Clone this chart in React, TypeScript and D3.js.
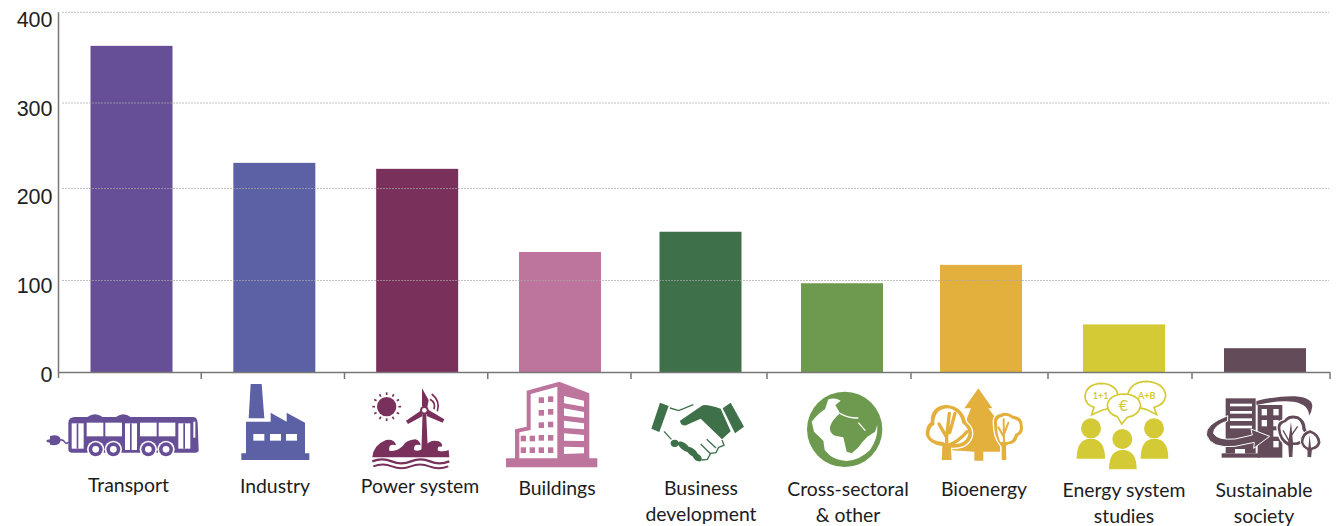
import React from "react";
import * as d3 from "d3";

const categories = ["Transport", "Industry", "Power system", "Buildings", "Business development", "Cross-sectoral & other", "Bioenergy", "Energy system studies", "Sustainable society"];
const projectCounts = [363, 230, 223, 131, 153, 97, 117, 52, 26];
const barColours = ["#674f97", "#5c60a5", "#79315c", "#bd759d", "#3e7049", "#6d9a4e", "#e4b03d", "#d4ca36", "#644b5a"];
const yTicks = [0, 100, 200, 300, 400];
const labelLines = [["Transport"], ["Industry"], ["Power system"], ["Buildings"], ["Business", "development"], ["Cross-sectoral", "& other"], ["Bioenergy"], ["Energy system", "studies"], ["Sustainable", "society"]];

// Axis scales; the printed axis is slightly uneven, so each is piecewise linear.
const y = d3.scaleLinear().domain(yTicks).range([372, 280.5, 188.5, 103, 12.3]);
const yLabel = d3.scaleLinear().domain([0, 400]).range([374, 19.5]);
const x = d3.scaleLinear().domain([0, 3, 4, 5, 6, 7, 8]).range([131.5, 560, 700.5, 842, 981, 1124, 1265]);
const xEdge = d3.scaleLinear().domain([0, 4, 5, 6, 7, 8, 9]).range([58, 631, 767, 911, 1048, 1192, 1330]);
const BAR_WIDTH = 82;

const labelX = d3.scaleOrdinal<string, number>().domain(categories).range([128.5, 275, 420, 557, 701, 848, 984, 1124, 1264]);
const labelY = d3.scaleOrdinal<string, number>().domain(categories).range([492, 493, 493, 495, 495, 496, 496, 497, 497]);

const W = "#ffffff";

function Bus({ c }: { c: string }) {
  const windows = [[170, 158], [226, 158], [330, 158], [386, 158]];
  const doors = [[125, 160, 36, 76], [285, 160, 36, 80], [445, 160, 36, 76]];
  const wheels = [197, 250, 355, 408];
  return (
    <g fill={c}>
      <path d="M115 160 Q115 141 135 141 H172 Q195 124 218 141 H258 Q280 124 302 141 H490 Q502 141 503 160 L506 240 Q506 248 495 248 H125 Q115 248 115 238 Z" />
      {windows.map(([wx, wy]) => <rect key={wx} x={wx} y={wy} width={50} height={41} fill={W} />)}
      {doors.map(([dx, dy, dw, dh]) => (
        <g key={dx}>
          <rect x={dx} y={dy} width={dw} height={dh} fill={W} />
          <rect x={dx + 15} y={dy} width={5} height={dh} />
        </g>
      ))}
      <rect x={490} y={155} width={6} height={48} fill={W} />
      {wheels.map((wx) => (
        <g key={wx}>
          <circle cx={wx} cy={238} r={26} fill={W} />
          <circle cx={wx} cy={238} r={21} />
          <circle cx={wx} cy={238} r={10} fill={W} />
        </g>
      ))}
      <path d="M60 198 L72 196 Q92 196 92 210 Q92 224 72 226 L60 224 V218 L50 216 V210 L60 208 Z" />
      <path d="M90 210 Q100 208 104 216 Q108 224 116 216" fill="none" stroke={c} strokeWidth={5} />
    </g>
  );
}

function Factory({ c }: { c: string }) {
  return (
    <g fill={c}>
      <polygon points="662,42 695,42 703,145 656,145" />
      <polygon points="648,155 722,155 722,128 770,155 770,128 825,158 825,250 838,250 838,270 634,270 634,250 648,250" />
      {[670, 720, 768].map((wx) => <rect key={wx} x={wx} y={192} width={33} height={20} fill={W} />)}
    </g>
  );
}

function PowerSystem({ c }: { c: string }) {
  const rays = d3.range(12).map((i) => (i * Math.PI) / 6);
  return (
    <g fill={c}>
      <circle cx={1070} cy={110} r={29} />
      {rays.map((a) => (
        <line key={a} x1={1070 + 35 * Math.cos(a)} y1={110 + 35 * Math.sin(a)} x2={1070 + 43 * Math.cos(a)} y2={110 + 43 * Math.sin(a)} stroke={c} strokeWidth={5} />
      ))}
      <polygon points="1178,120 1188,120 1194,250 1174,250" />
      <path d="M1176 55 L1196 90 L1192 112 L1176 110 Z" />
      <path d="M1192 118 L1243 148 L1238 158 L1190 138 Z" />
      <path d="M1172 122 L1128 152 L1134 162 L1178 138 Z" />
      <circle cx={1183} cy={121} r={13} />
      <circle cx={1183} cy={121} r={7} fill={W} />
      <path d="M1205 72 Q1232 92 1222 124 M1200 88 Q1218 98 1212 118" fill="none" stroke={c} strokeWidth={5} />
      <path d="M1027 262 Q1030 225 1068 210 Q1094 206 1098 226 Q1074 218 1078 242 Q1100 246 1118 228 Q1128 210 1156 208 Q1170 212 1172 226 Q1150 220 1152 240 Q1172 248 1188 226 Q1200 208 1226 214 Q1238 220 1236 230 Q1220 226 1224 242 Q1240 246 1256 240 L1258 262 Z" />
      <path d="M1027 274 Q1056 262 1085 274 T1143 274 T1200 274 T1258 274" fill="none" stroke={c} strokeWidth={7} />
      <path d="M1030 289 Q1058 278 1086 289 T1142 289 T1198 289 T1255 289" fill="none" stroke={c} strokeWidth={6} />
    </g>
  );
}

function Buildings({ c }: { c: string }) {
  const squares = [[176, 82], [204, 79], [176, 120], [204, 117], [176, 157], [204, 155], [122, 197], [149, 197], [176, 195], [204, 195], [122, 232], [149, 232], [176, 232], [204, 232]];
  const stripes = [78, 115, 152, 190, 230];
  return (
    <g fill={c}>
      <polygon points="140,62 238,35 328,70 328,265 352,265 352,292 78,292 78,265 105,265 105,178 140,170" />
      <polygon points="152,72 232,50 232,265 118,265 118,187 152,180" fill={W} />
      {squares.map(([sx, sy]) => <rect key={`${sx}-${sy}`} x={sx} y={sy} width={16} height={17} />)}
      {stripes.map((sy, i) => (
        <polygon key={sy} points={`252,${sy} 312,${sy + 14 - i * 3} 312,${sy + 32 - i * 3} 252,${sy + 22}`} fill={W} />
      ))}
    </g>
  );
}

function Handshake({ c }: { c: string }) {
  return (
    <g fill={c}>
      <polygon points="540,98 566,108 538,186 514,176" />
      <polygon points="752,98 792,170 765,190 728,115" />
      <path d="M600 152 L668 106 Q680 102 722 116 L752 184 L726 208 L662 146 L618 166 Q602 168 600 152 Z" />
      <path d="M570 114 L596 122 L640 104 M552 184 L574 208 M726 210 L732 226 L716 232 L708 248 L692 250 L682 268 L664 270 M680 208 L708 234 M662 222 L692 252" fill="none" stroke={c} strokeWidth={4} />
      <ellipse cx={584} cy={220} rx={12} ry={11} />
      <ellipse cx={612} cy={230} rx={22} ry={10} transform="rotate(38 612 230)" />
      <ellipse cx={636} cy={246} rx={21} ry={10} transform="rotate(38 636 246)" />
      <ellipse cx={652} cy={262} rx={15} ry={10} transform="rotate(38 652 262)" />
    </g>
  );
}

function Globe({ c }: { c: string }) {
  return (
    <g fill={c}>
      <circle cx={164} cy={148} r={113} />
      <path d="M115 58 Q135 51 152 62 L136 76 L146 92 L150 100 Q128 118 120 140 Q118 160 135 167 L160 172 L170 215 L185 220 Q205 205 218 185 L232 170 L255 155 L262 135 Q265 175 240 210 Q210 240 170 243 Q135 240 118 225 L104 210 L100 182 L72 155 L65 125 Q85 100 105 88 Z" fill={W} />
      <path d="M150 100 Q175 115 205 114 M205 128 L226 152" fill="none" stroke={W} strokeWidth={4} />
    </g>
  );
}

function Bioenergy({ c }: { c: string }) {
  return (
    <g fill={c}>
      <path d="M190 25 L232 85 L220 85 L248 122 L235 145 L256 195 V215 H205 V242 H178 V215 L100 210 L150 130 L168 85 L148 85 Z" />
      <path d="M30 165 Q30 135 45 125 Q45 75 95 72 Q145 78 155 125 Q178 145 172 170 Q160 205 115 205 L110 205 L112 242 H78 L80 200 Q40 195 30 165 Z" stroke={W} strokeWidth={4} />
      <path d="M43 165 Q43 140 58 135 Q56 88 97 85 Q135 90 142 130 Q163 145 160 165 Q152 192 118 192 Q92 192 84 186 Q50 184 43 165 Z" fill={W} />
      <path d="M95 205 V170 L103 100 M95 172 L72 132 M104 158 L120 100 M102 195 Q130 185 156 155" fill="none" stroke={c} strokeWidth={10} strokeLinecap="round" />
      <path d="M235 130 Q232 105 255 100 Q275 90 295 105 Q325 110 325 135 Q330 160 310 170 Q305 195 280 195 L275 198 L276 242 H258 V200 Q235 175 235 130 Z" stroke={W} strokeWidth={4} />
      <path d="M246 130 Q245 114 262 110 Q276 102 292 116 Q314 120 314 136 Q318 156 300 162 Q296 184 276 186 L256 186 Q246 165 246 130 Z" fill={W} />
      <path d="M267 200 L266 118 M267 172 L250 142 M268 160 L280 128" fill="none" stroke={c} strokeWidth={6} strokeLinecap="round" />
    </g>
  );
}

function EnergyStudies({ c }: { c: string }) {
  return (
    <g fill={c} fontFamily="Lato, sans-serif" fontWeight={700}>
      <path d="M555 80 Q558 42 605 40 Q650 42 656 82 Q652 112 608 120 L575 134 L582 112 Q556 104 555 80 Z" fill={W} stroke={c} strokeWidth={5} />
      <path d="M684 72 Q692 36 740 34 Q792 38 797 76 Q795 104 762 112 L770 134 L738 118 Q696 112 684 72 Z" fill={W} stroke={c} strokeWidth={5} />
      <path d="M622 106 Q626 74 672 72 Q718 74 722 108 Q716 136 682 142 L665 162 L652 140 Q624 132 622 106 Z" fill={W} stroke={c} strokeWidth={5} />
      <text x={602} y={87} fontSize={27} textAnchor="middle">1+1</text>
      <text x={740} y={87} fontSize={27} textAnchor="middle">A+B</text>
      <text x={670} y={124} fontSize={46} fontWeight={400} textAnchor="middle">€</text>
      <circle cx={573} cy={175} r={30} />
      <circle cx={762} cy={175} r={30} />
      <circle cx={667} cy={207} r={30} />
      <path d="M530 266 Q530 206 572 206 Q615 206 615 266 Z" />
      <path d="M722 266 Q722 206 763 206 Q805 206 805 266 Z" />
      <path d="M627 298 Q627 240 668 240 Q710 240 710 298 Z" />
    </g>
  );
}

function SustainableSociety({ c }: { c: string }) {
  const stripes = [56, 78, 100, 122];
  const panes = [[200, 72], [235, 72], [200, 105], [235, 105], [235, 136], [235, 168]];
  return (
    <g fill={c}>
      <rect x={92} y={40} width={90} height={165} />
      {stripes.map((sy) => <rect key={sy} x={105} y={sy} width={66} height={8} fill={W} />)}
      <rect x={80} y={205} width={115} height={13} />
      <rect x={120} y={192} width={30} height={13} fill={W} />
      <rect x={188} y={60} width={74} height={158} />
      {panes.map(([px, py]) => <rect key={`${px}-${py}`} x={px} y={py} width={16} height={19} fill={W} />)}
      <path d="M184 48 Q250 32 300 34 Q352 38 352 64 Q350 82 342 92 Q342 58 296 50 Q240 46 184 60 Z" />
      <path d="M98 92 Q30 118 34 150 Q48 192 120 184 L178 172 L176 190 L224 154 L168 132 L172 150 L120 162 Q70 166 56 146 Q54 122 98 108 Z" stroke={W} strokeWidth={3} />
      <path d="M246 130 Q244 108 266 104 Q280 84 310 92 Q334 104 334 130 Q348 150 330 170 Q312 184 296 182 L294 218 H280 L278 184 Q250 170 246 130 Z" stroke={W} strokeWidth={4} />
      <path d="M256 130 Q256 116 272 112 Q284 96 306 102 Q322 112 322 132 Q334 150 322 162 Q310 174 294 172 L288 110 L280 172 Q258 160 256 130 Z" fill={W} />
      <path d="M288 178 L264 136 M290 150 L308 124" fill="none" stroke={c} strokeWidth={4} />
      <path d="M316 172 Q316 140 346 134 Q376 146 378 172 Q374 192 352 196 L350 218 H336 L336 196 Q320 190 316 172 Z" stroke={W} strokeWidth={3} />
      <path d="M325 172 Q326 150 346 144 Q366 152 368 172 Q366 184 348 188 L344 150 L340 188 Q328 184 325 172 Z" fill={W} />
    </g>
  );
}

const iconComponents = [Bus, Factory, PowerSystem, Buildings, Handshake, Globe, Bioenergy, EnergyStudies, SustainableSociety];
// Each icon is authored in a 3x drawing space with its own canvas corner.
const iconCorners = [[30, 370], [30, 370], [30, 370], [480, 370], [480, 370], [790, 380], [915, 380], [900, 370], [1195, 385]];

export default function App() {
  return (
    <svg width={1337} height={526} style={{ position: "absolute", left: 0, top: 0, background: "#fff" }}>
      {categories.map((name, i) => (
        <rect
          key={name}
          x={x(i) - BAR_WIDTH / 2}
          y={y(projectCounts[i])}
          width={BAR_WIDTH}
          height={y(0) - y(projectCounts[i])}
          fill={barColours[i]}
        />
      ))}

      {yTicks.slice(1).map((t) => (
        <line key={t} x1={62} x2={1329} y1={y(t)} y2={y(t)} stroke="#a8a8a8" strokeOpacity={0.7} strokeWidth={1} strokeDasharray="2 1" />
      ))}

      <line x1={58.5} x2={58.5} y1={y(400)} y2={y(0) + 6} stroke="#777" strokeWidth={1.5} />
      <line x1={58} x2={1330} y1={y(0) + 0.5} y2={y(0) + 0.5} stroke="#777" strokeWidth={1.5} />
      {d3.range(1, categories.length + 1).map((i) => (
        <line key={i} x1={xEdge(i)} x2={xEdge(i)} y1={y(0)} y2={y(0) + 7} stroke="#777" strokeWidth={1.5} />
      ))}

      {yTicks.map((t) => (
        <text
          key={t}
          x={52.5}
          y={yLabel(t)}
          dy="0.36em"
          textAnchor="end"
          fontFamily="'Liberation Sans', Arial, sans-serif"
          fontSize={21.5}
          fill="#222"
        >
          {t}
        </text>
      ))}

      {categories.map((name, i) => {
        const Icon = iconComponents[i];
        const [ox, oy] = iconCorners[i];
        return (
          <g key={name} transform={`translate(${ox},${oy}) scale(${1 / 3})`}>
            <Icon c={barColours[i]} />
          </g>
        );
      })}

      {categories.map((name, i) => (
        <text key={name} fontFamily="Lato, sans-serif" fontSize={19.4} fill="#1c1c1c" textAnchor="middle">
          {labelLines[i].map((line, j) => (
            <tspan key={line} x={labelX(name)} y={labelY(name) + j * 25.5}>{line}</tspan>
          ))}
        </text>
      ))}
    </svg>
  );
}
